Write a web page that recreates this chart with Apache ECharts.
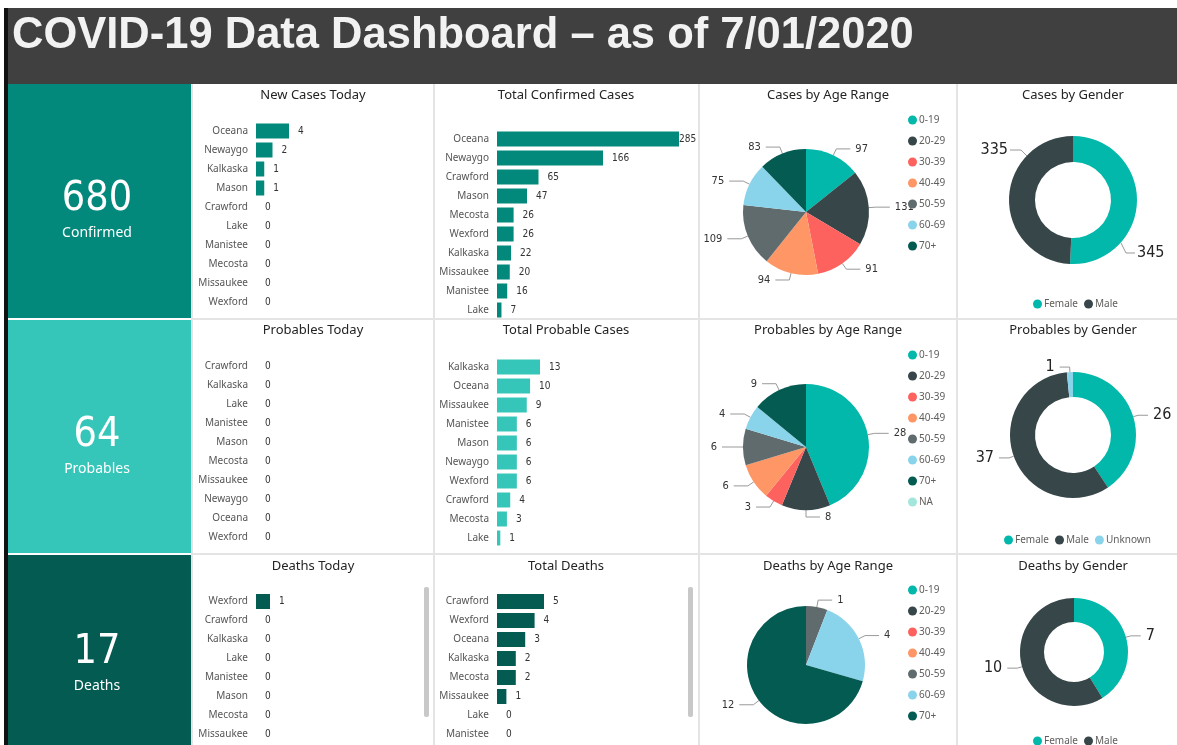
<!DOCTYPE html>
<html>
<head>
<meta charset="UTF-8">
<title>COVID-19 Data Dashboard</title>
<script src="https://cdn.jsdelivr.net/npm/echarts@6/dist/echarts.min.js"></script>
<style>
    html, body { margin: 0; padding: 0; background: #fff; }
    #main { width: 1177px; height: 745px; }
</style>
</head>
<body>
<div id="main"></div>
<script>
    // ---- data ----
    var ageRanges = ['0-19', '20-29', '30-39', '40-49', '50-59', '60-69', '70+', 'NA'];
    var genders = ['Female', 'Male', 'Unknown'];

    var kpiValues = [680, 64, 17];
    var kpiLabels = ['Confirmed', 'Probables', 'Deaths'];

    var newCasesCounties = ['Oceana', 'Newaygo', 'Kalkaska', 'Mason', 'Crawford', 'Lake', 'Manistee', 'Mecosta', 'Missaukee', 'Wexford'];
    var newCases = [4, 2, 1, 1, 0, 0, 0, 0, 0, 0];
    var confirmedCounties = ['Oceana', 'Newaygo', 'Crawford', 'Mason', 'Mecosta', 'Wexford', 'Kalkaska', 'Missaukee', 'Manistee', 'Lake'];
    var confirmedTotals = [285, 166, 65, 47, 26, 26, 22, 20, 16, 7];
    var casesByAge = [97, 131, 91, 94, 109, 75, 83];
    var casesByGender = [345, 335];

    var probTodayCounties = ['Crawford', 'Kalkaska', 'Lake', 'Manistee', 'Mason', 'Mecosta', 'Missaukee', 'Newaygo', 'Oceana', 'Wexford'];
    var probToday = [0, 0, 0, 0, 0, 0, 0, 0, 0, 0];
    var probCounties = ['Kalkaska', 'Oceana', 'Missaukee', 'Manistee', 'Mason', 'Newaygo', 'Wexford', 'Crawford', 'Mecosta', 'Lake'];
    var probTotals = [13, 10, 9, 6, 6, 6, 6, 4, 3, 1];
    var probByAge = [28, 8, 3, 6, 6, 4, 9, 0];
    var probByGender = [26, 37, 1];

    var deathsTodayCounties = ['Wexford', 'Crawford', 'Kalkaska', 'Lake', 'Manistee', 'Mason', 'Mecosta', 'Missaukee', 'Newaygo', 'Oceana'];
    var deathsToday = [1, 0, 0, 0, 0, 0, 0, 0, 0, 0];
    var deathCounties = ['Crawford', 'Wexford', 'Oceana', 'Kalkaska', 'Mecosta', 'Missaukee', 'Lake', 'Manistee', 'Mason', 'Newaygo'];
    var deathTotals = [5, 4, 3, 2, 2, 1, 0, 0, 0, 0];
    var deathsByAge = [0, 0, 0, 0, 1, 4, 12];
    var deathsByGender = [7, 10];

    // ---- colours ----
    var rowColors = ['#02897C', '#36C6B9', '#045B52'];
    var ageColors = ['#01B8AA', '#374649', '#FD625E', '#FE9666', '#5F6B6D', '#8AD4EB', '#045B52', '#A3E6DC'];
    var genderColors = ['#01B8AA', '#374649', '#8AD4EB'];

    var myChart = echarts.init(document.getElementById('main'));

    var grids = [], xAxes = [], yAxes = [], series = [], legends = [], graphics = [];
    var numFont = '"DejaVu Sans Condensed", "DejaVu Sans", sans-serif';
    var uiFont = '"Noto Sans", "Open Sans", sans-serif';

    // static frame
    graphics.push({type: 'rect', shape: {x: 4, y: 8, width: 4, height: 737}, style: {fill: '#111'}});
    graphics.push({type: 'rect', shape: {x: 8, y: 8, width: 1169, height: 76}, style: {fill: '#404040'}});
    graphics.push({
        type: 'text', x: 12, y: 36,
        style: {text: 'COVID-19 Data Dashboard \u2013 as of 7/01/2020', fill: '#F2F2F2',
            font: 'bold 43.5px "Liberation Sans", Arial, sans-serif', verticalAlign: 'middle'}
    });
    // panel separators
    [433, 698, 956].forEach(function (x) {
        graphics.push({type: 'rect', shape: {x: x, y: 84, width: 2, height: 661}, style: {fill: '#E4E4E4'}});
    });
    [318, 553].forEach(function (y) {
        graphics.push({type: 'rect', shape: {x: 191, y: y, width: 986, height: 2}, style: {fill: '#E4E4E4'}});
    });
    graphics.push({type: 'rect', shape: {x: 191, y: 84, width: 2, height: 661}, style: {fill: '#E4E4E4'}});

    // kpi tiles
    var tileTops = [84, 320, 555], tileBottoms = [318, 553, 745];
    var kpiNumY = [199, 435, 652], kpiLabelY = [233, 469, 686];
    kpiValues.forEach(function (v, i) {
        var t = tileTops[i], b = tileBottoms[i];
        graphics.push({type: 'rect', shape: {x: 8, y: t, width: 183, height: b - t}, style: {fill: rowColors[i]}});
        graphics.push({type: 'text', x: 97, y: kpiNumY[i], style: {text: String(v), fill: '#fff', font: '41px ' + numFont, align: 'center', verticalAlign: 'middle'}});
        graphics.push({type: 'text', x: 97, y: kpiLabelY[i], style: {text: kpiLabels[i], fill: '#fff', font: '14px ' + uiFont, align: 'center', verticalAlign: 'middle'}});
    });

    // titles
    var titleRows = [
        ['New Cases Today', 'Total Confirmed Cases', 'Cases by Age Range', 'Cases by Gender'],
        ['Probables Today', 'Total Probable Cases', 'Probables by Age Range', 'Probables by Gender'],
        ['Deaths Today', 'Total Deaths', 'Deaths by Age Range', 'Deaths by Gender']
    ];
    var titleX = [313, 566, 828, 1073], titleY = [95, 330, 566];
    titleRows.forEach(function (row, r) {
        row.forEach(function (t, c) {
            graphics.push({type: 'text', x: titleX[c], y: titleY[r], style: {text: t, fill: '#252423', font: '13px ' + uiFont, align: 'center', verticalAlign: 'middle'}});
        });
    });

    // scrollbars of the deaths row
    [424, 688].forEach(function (x) {
        graphics.push({type: 'rect', shape: {x: x, y: 587, width: 5, height: 130, r: 2}, style: {fill: '#C8C8C8'}});
    });

    function barPanel(cats, vals, color, left, top, width) {
        var idx = grids.length;
        var max = Math.max.apply(null, vals) || 1;
        grids.push({left: left, top: top, width: width, height: cats.length * 19, outerBoundsMode: 'none', containLabel: false});
        xAxes.push({gridIndex: idx, type: 'value', min: 0, max: max, show: false});
        yAxes.push({
            gridIndex: idx, type: 'category', data: cats, inverse: true,
            axisLine: {show: false}, axisTick: {show: false}, splitLine: {show: false},
            axisLabel: {fontSize: 10, color: '#555', margin: 8, fontFamily: uiFont}
        });
        series.push({
            type: 'bar', xAxisIndex: idx, yAxisIndex: idx, barWidth: 15,
            data: vals.map(function (v) {
                return v === max && v > 0 && width > 150 ? {value: v, label: {distance: 0}} : v;
            }),
            itemStyle: {color: color},
            label: {show: true, position: 'right', distance: 9, fontSize: 10, color: '#333', fontFamily: numFont}
        });
    }

    barPanel(newCasesCounties, newCases, rowColors[0], 256, 121.5, 33);
    barPanel(confirmedCounties, confirmedTotals, rowColors[0], 497, 129.5, 182);
    barPanel(probTodayCounties, probToday, rowColors[1], 256, 356.5, 30);
    barPanel(probCounties, probTotals, rowColors[1], 497, 357.5, 43);
    barPanel(deathsTodayCounties, deathsToday, rowColors[2], 256, 592, 14);
    barPanel(deathCounties, deathTotals, rowColors[2], 497, 592, 47);

    function agePie(vals, cx, cy, r) {
        series.push({
            type: 'pie', center: [cx, cy], radius: r, startAngle: 90, clockwise: true,
            data: vals.map(function (v, i) {
                var d = {name: ageRanges[i], value: v, itemStyle: {color: ageColors[i]}};
                if (v === 0) { d.label = {show: false}; d.labelLine = {show: false}; }
                return d;
            }),
            itemStyle: {borderWidth: 0},
            label: {show: true, formatter: '{c}', fontSize: 11, color: '#333', fontFamily: numFont, overflow: 'none'},
            labelLine: {show: true, length: 7, length2: 14, lineStyle: {color: '#999', width: 1}}
        });
    }

    function genderPie(vals, cx, cy, rIn, rOut, spots) {
        var s = {
            type: 'pie', center: [cx, cy], radius: [rIn, rOut], startAngle: 90, clockwise: true,
            data: vals.map(function (v, i) {
                return {name: genders[i], value: v, itemStyle: {color: genderColors[i]}};
            }),
            itemStyle: {borderWidth: 0},
            label: {show: true, formatter: '{c}', fontSize: 16, color: '#252423', fontFamily: numFont, overflow: 'none'},
            labelLine: {show: true, length: 5, length2: 10, lineStyle: {color: '#999', width: 1}}
        };
        // optional label placement per slice: {at: [x, y, align], line: guide line points}
        if (spots) {
            s.labelLayout = function (params) {
                var p = spots[params.dataIndex];
                if (!p) return {};
                return {x: p.at[0], y: p.at[1], align: p.at[2], verticalAlign: 'middle', labelLinePoints: p.line};
            };
        }
        series.push(s);
    }

    agePie(casesByAge, 806, 212, 63);
    agePie(probByAge, 806, 447, 63);
    agePie(deathsByAge, 806, 665, 59);
    genderPie(casesByGender, 1073, 200, 38, 64, [
        {at: [1137, 253, 'left'], line: [[1121, 243], [1126, 253], [1135, 253]]},
        {at: [1008, 150, 'right'], line: [[1027, 156], [1021, 150], [1010, 150]]}
    ]);
    genderPie(probByGender, 1073, 435, 38, 63);
    genderPie(deathsByGender, 1074, 652, 30, 54);

    function ageLegend(count, top) {
        legends.push({
            orient: 'vertical', left: 903, top: top, itemWidth: 9, itemHeight: 9, itemGap: 11,
            icon: 'circle', selectedMode: false, data: ageRanges.slice(0, count),
            textStyle: {fontSize: 10, color: '#605E5C', fontFamily: uiFont, padding: [0, 0, 0, -3]}
        });
    }
    ageLegend(7, 110);
    ageLegend(8, 345);
    ageLegend(7, 580);

    function genderLegend(count, left, top) {
        legends.push({
            orient: 'horizontal', left: left, top: top, itemWidth: 9, itemHeight: 9, itemGap: 6,
            icon: 'circle', selectedMode: false, data: genders.slice(0, count),
            textStyle: {fontSize: 10, color: '#605E5C', fontFamily: uiFont, padding: [0, 0, 0, -3]}
        });
    }
    genderLegend(2, 1028, 294);
    genderLegend(3, 999, 530);
    genderLegend(2, 1028, 731);

    var option = {
        animation: false,
        backgroundColor: '#fff',
        grid: grids,
        xAxis: xAxes,
        yAxis: yAxes,
        legend: legends,
        series: series,
        graphic: {elements: graphics}
    };
    myChart.setOption(option);
</script>
</body>
</html>
